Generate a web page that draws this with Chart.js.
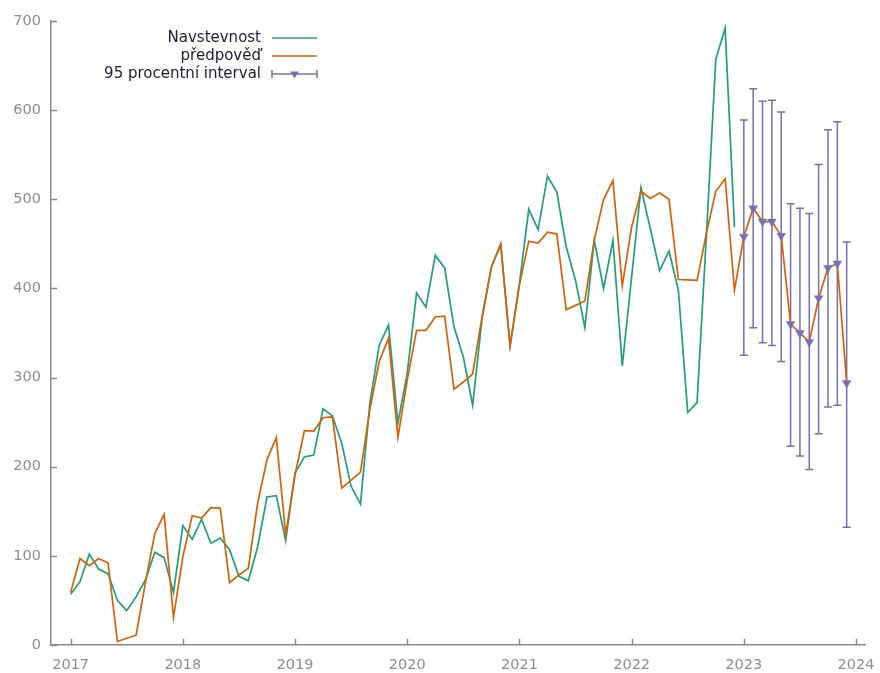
<!DOCTYPE html>
<html>
<head>
<meta charset="utf-8">
<script src="https://cdn.jsdelivr.net/npm/chart.js@4"></script>
<style>
html,body{margin:0;padding:0;background:#fff;}
#wrap{width:880px;height:673px;position:relative;}
</style>
</head>
<body>
<div id="wrap"><canvas id="c" width="880" height="673"></canvas></div>
<script>
// ---- data (monthly, starting Jan 2017) ----
const startYear = 2017;
const seriesNames = ['Navstevnost', 'předpověď', '95 procentní interval'];
const visits = [
  57, 71, 102, 85, 80, 50, 38.5, 54, 73, 104, 98, 59,
  134, 118.5, 141, 114, 120, 107, 77, 72, 110, 166, 167.5, 117,
  193, 211, 213, 265, 257, 226, 178, 158, 271, 336, 359, 249,
  305, 395, 379, 437, 423, 357, 323, 269, 366, 424, 449, 336,
  405, 489, 466, 526, 508, 447, 409, 356, 454, 400, 454, 313,
  413, 513, 467, 420, 442, 398, 261, 272, 460, 657, 692, 469
];
const forecast = [
  59, 97, 89, 97, 92, 4, 7.5, 11, 70, 125, 146.5, 31,
  99, 145, 142.5, 154, 153.5, 70, 78.5, 86, 159, 208, 232.6, 123.4,
  191, 240.4, 240, 255, 256, 176, 185, 194, 264, 318, 344, 233,
  297, 353, 353, 368, 369, 287, 295, 304, 368, 424, 450, 335,
  404, 453, 451, 463, 461, 376, 381, 386, 454, 500, 521, 403,
  469, 509, 501, 507, 500, 410, 409.5, 409, 462, 509, 523, 398,
  458, 490, 475, 475, 459, 360, 350, 340, 389, 423, 428, 294
];
const lower95 = [325, 356, 339, 336, 318, 223, 212, 197, 237, 267, 269, 132];
const upper95 = [589, 624, 610, 611, 598, 495, 490, 484, 539, 578, 587, 452];
const yearTicks = [2017, 2018, 2019, 2020, 2021, 2022, 2023, 2024];
const valueTicks = [0, 100, 200, 300, 400, 500, 600, 700];

// ---- styling ----
const GREEN = '#1fa07a', ORANGE = '#d9600a', PURPLE = '#7570b3';
const AXIS = '#8a8a8a', TICKTXT = '#8c8c96', LEGTXT = '#1c1c38';
const FONT = 'DejaVu Sans';

const toX = i => startYear + i / 12;
const intervalStart = visits.length; // forecast interval begins after observed data
const visitsPts = visits.map((v, i) => ({x: toX(i), y: v}));
const forecastPts = forecast.map((v, i) => ({x: toX(i), y: v}));
const intervalPts = forecast.slice(intervalStart).map((v, i) => ({x: toX(intervalStart + i), y: v}));

const errorBars = {
  id: 'errorBars',
  beforeDatasetsDraw(chart) {
    const xs = chart.scales.x, ys = chart.scales.y, ctx = chart.ctx;
    ctx.save();
    ctx.strokeStyle = PURPLE;
    ctx.lineWidth = 1.5;
    lower95.forEach((lo, i) => {
      const x = xs.getPixelForValue(toX(intervalStart + i));
      const y1 = ys.getPixelForValue(lo), y2 = ys.getPixelForValue(upper95[i]);
      ctx.beginPath();
      ctx.moveTo(x, y1); ctx.lineTo(x, y2);
      ctx.moveTo(x - 4, y1); ctx.lineTo(x + 4, y1);
      ctx.moveTo(x - 4, y2); ctx.lineTo(x + 4, y2);
      ctx.stroke();
    });
    ctx.restore();
  }
};

const innerTicks = {
  id: 'innerTicks',
  afterDraw(chart) {
    const xs = chart.scales.x, ys = chart.scales.y, ctx = chart.ctx;
    const a = chart.chartArea;
    ctx.save();
    ctx.strokeStyle = AXIS;
    ctx.lineWidth = 1.5;
    ctx.beginPath();
    yearTicks.forEach(t => {
      const x = Math.round(xs.getPixelForValue(t)) + 0.5;
      ctx.moveTo(x, a.bottom); ctx.lineTo(x, a.bottom - 6);
    });
    valueTicks.forEach(t => {
      const y = Math.round(ys.getPixelForValue(t)) + 0.5;
      ctx.moveTo(a.left, y); ctx.lineTo(a.left + 6, y);
    });
    ctx.stroke();
    ctx.restore();
  }
};

const customLegend = {
  id: 'customLegend',
  afterDraw(chart) {
    const ctx = chart.ctx;
    const textRight = 261, x1 = 272, x2 = 317;
    const rows = [38, 56, 74];
    const cols = [GREEN, ORANGE, PURPLE];
    ctx.save();
    ctx.font = '15px "' + FONT + '"';
    ctx.textAlign = 'right';
    ctx.textBaseline = 'middle';
    seriesNames.forEach((name, i) => {
      ctx.fillStyle = LEGTXT;
      ctx.fillText(name, textRight, rows[i]);
      ctx.strokeStyle = cols[i];
      ctx.lineWidth = 1.5;
      ctx.beginPath();
      ctx.moveTo(x1, rows[i]); ctx.lineTo(x2, rows[i]);
      if (i === 2) {
        ctx.moveTo(x1, rows[i] - 4); ctx.lineTo(x1, rows[i] + 4);
        ctx.moveTo(x2, rows[i] - 4); ctx.lineTo(x2, rows[i] + 4);
      }
      ctx.stroke();
      if (i === 2) {
        const cx = (x1 + x2) / 2, cy = rows[i];
        ctx.fillStyle = PURPLE;
        ctx.beginPath();
        ctx.moveTo(cx - 4.3, cy - 2.5);
        ctx.lineTo(cx + 4.3, cy - 2.5);
        ctx.lineTo(cx, cy + 4.5);
        ctx.closePath();
        ctx.fill();
      }
    });
    ctx.restore();
  }
};

new Chart(document.getElementById('c'), {
  type: 'line',
  data: {
    datasets: [
      {label: seriesNames[0], data: visitsPts, borderColor: GREEN, borderWidth: 1.7, pointRadius: 0, tension: 0, fill: false, order: 3},
      {label: seriesNames[1], data: forecastPts, borderColor: ORANGE, borderWidth: 1.7, pointRadius: 0, tension: 0, fill: false, order: 2},
      {label: seriesNames[2], data: intervalPts, showLine: false, pointStyle: 'triangle', rotation: 180,
       pointRadius: 5, pointBorderWidth: 0.5, pointBackgroundColor: PURPLE, pointBorderColor: PURPLE, order: 1}
    ]
  },
  options: {
    responsive: false,
    animation: false,
    devicePixelRatio: 1,
    layout: {padding: {left: 0, right: 15, top: 21, bottom: 0}},
    plugins: {legend: {display: false}, tooltip: {enabled: false}},
    scales: {
      x: {
        type: 'linear',
        min: 2016.825,
        max: 2024.08,
        afterBuildTicks(scale) { scale.ticks = yearTicks.map(v => ({value: v})); },
        afterFit(scale) { scale.height = 28; scale.paddingLeft = 0; scale.paddingRight = 0; },
        grid: {display: false, drawTicks: false, tickLength: 0},
        border: {display: true, color: AXIS, width: 1.5},
        ticks: {color: TICKTXT, font: {family: FONT, size: 14.5}, padding: 12, autoSkip: false, maxRotation: 0,
                callback: v => String(v)}
      },
      y: {
        type: 'linear',
        min: 0,
        max: 700,
        afterBuildTicks(scale) { scale.ticks = valueTicks.map(v => ({value: v})); },
        afterFit(scale) { scale.width = 51; scale.paddingTop = 0; scale.paddingBottom = 0; },
        grid: {display: false, drawTicks: false, tickLength: 0},
        border: {display: true, color: AXIS, width: 1.5},
        ticks: {color: TICKTXT, font: {family: FONT, size: 14.5}, padding: 10}
      }
    }
  },
  plugins: [errorBars, innerTicks, customLegend]
});
</script>
</body>
</html>
